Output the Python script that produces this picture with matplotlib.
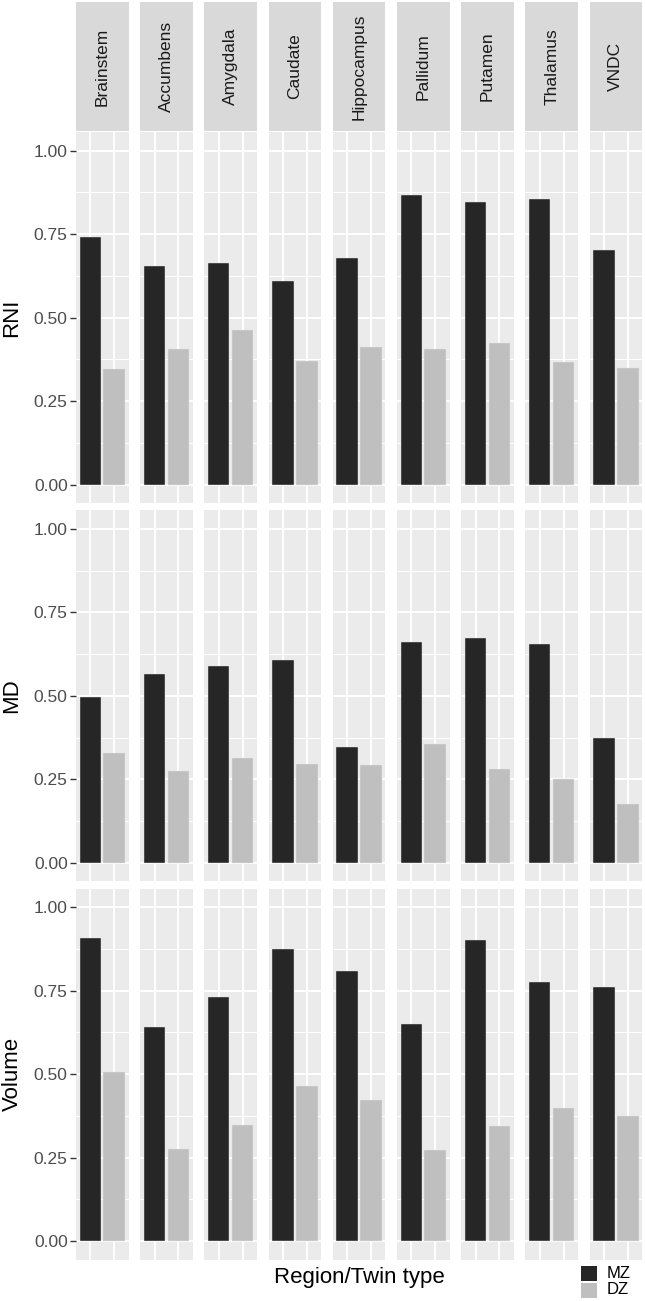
import matplotlib
matplotlib.use('Agg')
import matplotlib.pyplot as plt
from matplotlib.patches import Rectangle

# values
regions = ['Brainstem', 'Accumbens', 'Amygdala', 'Caudate', 'Hippocampus',
           'Pallidum', 'Putamen', 'Thalamus', 'VNDC']
twin_types = ['MZ', 'DZ']
measures = ['RNI', 'MD', 'Volume']

rni_mz = [0.740, 0.655, 0.662, 0.610, 0.679, 0.868, 0.847, 0.854, 0.702]
rni_dz = [0.345, 0.407, 0.464, 0.369, 0.413, 0.407, 0.424, 0.366, 0.349]
md_mz = [0.496, 0.566, 0.588, 0.607, 0.346, 0.662, 0.673, 0.656, 0.375]
md_dz = [0.329, 0.275, 0.314, 0.297, 0.293, 0.356, 0.282, 0.252, 0.177]
vol_mz = [0.908, 0.642, 0.731, 0.875, 0.809, 0.650, 0.903, 0.776, 0.762]
vol_dz = [0.505, 0.276, 0.347, 0.464, 0.423, 0.274, 0.346, 0.398, 0.375]

yticks = [0.0, 0.25, 0.5, 0.75, 1.0]
ytick_labels = ['0.00', '0.25', '0.50', '0.75', '1.00']

data = {'RNI': (rni_mz, rni_dz), 'MD': (md_mz, md_dz), 'Volume': (vol_mz, vol_dz)}
colors = {'MZ': '#262626', 'DZ': '#bfbfbf'}

plt.rcParams['font.family'] = ['Liberation Sans', 'DejaVu Sans']

W, H = 645, 1301
fig = plt.figure(figsize=(W / 100, H / 100), dpi=100)


def rect(x0, y0, w, h):
    # pixel box (top-left origin) -> figure fraction
    return [x0 / W, 1 - (y0 + h) / H, w / W, h / H]


left0 = 76.0
pw = 52.5
pitch = 64.2
top0 = 132.2
ph = 370.7
vpitch = 378.3
strip_top = 2.0
strip_h = top0 - strip_top - 1

for r, m in enumerate(measures):
    mz, dz = data[m]
    y0 = top0 + r * vpitch
    for c, reg in enumerate(regions):
        x0 = left0 + c * pitch
        ax = fig.add_axes(rect(x0, y0, pw, ph))
        ax.set_facecolor('#ebebeb')
        ax.set_xlim(0.4, 2.6)
        ax.set_ylim(-0.055, 1.055)
        ax.set_yticks(yticks)
        ax.set_yticks([0.125, 0.375, 0.625, 0.875], minor=True)
        ax.set_xticks([1, 2])
        ax.grid(True, which='major', color='white', linewidth=1.4)
        ax.grid(True, which='minor', axis='y', color='white', linewidth=0.7)
        ax.set_axisbelow(True)
        for s in ax.spines.values():
            s.set_visible(False)
        ax.tick_params(axis='x', which='both', length=0, labelbottom=False)
        ax.tick_params(axis='y', which='minor', length=0)
        if c == 0:
            ax.set_yticklabels(ytick_labels)
            ax.tick_params(axis='y', which='major', length=4, width=1.0,
                           color='#333333', labelsize=12.5, labelcolor='#4d4d4d', pad=2)
        else:
            ax.tick_params(axis='y', which='major', length=0, labelleft=False)
        vals = [mz[c], dz[c]]
        for i, t in enumerate(twin_types):
            ax.bar(i + 1, vals[i], width=0.9, color=colors[t],
                   edgecolor='#e6e6e6', linewidth=0.3)

        if r == 0:
            sax = fig.add_axes(rect(x0, strip_top, pw, strip_h))
            sax.set_facecolor('#d9d9d9')
            sax.set_xticks([])
            sax.set_yticks([])
            for s in sax.spines.values():
                s.set_visible(False)
            sax.text(0.5, 0.5, reg, rotation=90, ha='center', va='center',
                     fontsize=12.5, color='#1a1a1a', transform=sax.transAxes)

    # row title
    fig.text(12 / W, 1 - (y0 + ph / 2) / H, m, rotation=90, ha='center',
             va='center', fontsize=16)

fig.text((left0 + (8 * pitch + pw) / 2) / W, 1 - 1278 / H, 'Region/Twin type',
         ha='center', va='center', fontsize=16)

# legend keys
key_y = [1265.5, 1282.5]
for t, ky in zip(twin_types, key_y):
    fig.add_artist(Rectangle((581 / W, 1 - (ky + 15) / H), 15.5 / W, 15 / H,
                             transform=fig.transFigure, facecolor=colors[t],
                             edgecolor='none'))
    fig.text(607 / W, 1 - (ky + 7.5) / H, t, ha='left', va='center', fontsize=12)

fig.savefig('out.png', dpi=100)
